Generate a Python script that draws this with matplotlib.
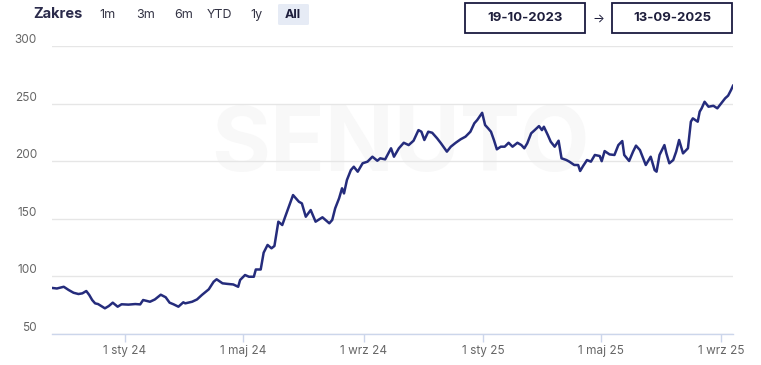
import numpy as np
import pandas as pd
from matplotlib import pyplot as plt
from matplotlib.patches import Rectangle, FancyBboxPatch

dates = [
    "2023-10-19", "2023-10-24", "2023-10-31", "2023-11-05", "2023-11-10", "2023-11-15",
    "2023-11-19", "2023-11-23", "2023-11-26", "2023-11-29", "2023-12-02", "2023-12-05",
    "2023-12-12", "2023-12-16", "2023-12-20", "2023-12-25", "2023-12-29", "2024-01-05",
    "2024-01-12", "2024-01-17", "2024-01-20", "2024-01-27", "2024-02-01", "2024-02-07",
    "2024-02-12", "2024-02-16", "2024-02-20", "2024-02-25", "2024-03-01", "2024-03-03",
    "2024-03-10", "2024-03-15", "2024-03-20", "2024-03-27", "2024-04-01", "2024-04-04",
    "2024-04-10", "2024-04-15", "2024-04-21", "2024-04-26", "2024-04-28", "2024-05-03",
    "2024-05-07", "2024-05-12", "2024-05-14", "2024-05-19", "2024-05-22", "2024-05-26",
    "2024-05-30", "2024-06-02", "2024-06-06", "2024-06-10", "2024-06-13", "2024-06-21",
    "2024-06-27", "2024-06-30", "2024-07-04", "2024-07-09", "2024-07-14", "2024-07-21",
    "2024-07-28", "2024-07-31", "2024-08-03", "2024-08-07", "2024-08-10", "2024-08-12",
    "2024-08-15", "2024-08-19", "2024-08-22", "2024-08-26", "2024-08-31", "2024-09-05",
    "2024-09-10", "2024-09-15", "2024-09-18", "2024-09-23", "2024-09-29", "2024-10-02",
    "2024-10-07", "2024-10-12", "2024-10-17", "2024-10-22", "2024-10-27", "2024-10-30",
    "2024-11-02", "2024-11-06", "2024-11-10", "2024-11-15", "2024-11-19", "2024-11-25",
    "2024-11-29", "2024-12-04", "2024-12-09", "2024-12-14", "2024-12-19", "2024-12-23",
    "2024-12-26", "2024-12-31", "2025-01-03", "2025-01-06", "2025-01-09", "2025-01-12",
    "2025-01-15", "2025-01-19", "2025-01-23", "2025-01-27", "2025-01-31", "2025-02-05",
    "2025-02-09", "2025-02-12", "2025-02-15", "2025-02-19", "2025-02-22", "2025-02-27",
    "2025-03-02", "2025-03-04", "2025-03-08", "2025-03-11", "2025-03-15", "2025-03-19",
    "2025-03-22", "2025-03-27", "2025-03-30", "2025-04-04", "2025-04-08", "2025-04-10",
    "2025-04-13", "2025-04-17", "2025-04-21", "2025-04-25", "2025-04-30", "2025-05-02",
    "2025-05-05", "2025-05-10", "2025-05-15", "2025-05-19", "2025-05-23", "2025-05-25",
    "2025-05-30", "2025-06-03", "2025-06-06", "2025-06-10", "2025-06-13", "2025-06-16",
    "2025-06-21", "2025-06-25", "2025-06-27", "2025-06-30", "2025-07-05", "2025-07-07",
    "2025-07-10", "2025-07-14", "2025-07-17", "2025-07-20", "2025-07-24", "2025-07-29",
    "2025-08-01", "2025-08-03", "2025-08-08", "2025-08-10", "2025-08-12", "2025-08-15",
    "2025-08-19", "2025-08-24", "2025-08-28", "2025-09-01", "2025-09-05", "2025-09-08",
    "2025-09-11", "2025-09-13",
]
values = [
    90.0, 89.5, 91.0, 88.2, 85.8, 84.7,
    85.3, 87.3, 83.9, 79.5, 76.6, 76.0,
    72.3, 74.3, 77.2, 73.7, 75.8, 75.5,
    76.0, 75.7, 79.5, 78.0, 80.0, 84.1,
    81.9, 77.2, 75.8, 73.7, 77.5, 76.6,
    78.0, 80.0, 83.9, 88.8, 95.4, 97.5,
    94.0, 93.5, 93.0, 91.0, 96.9, 101.2,
    99.7, 99.7, 106.0, 106.0, 120.6, 127.3,
    124.4, 126.4, 147.5, 144.6, 151.8, 170.6,
    164.8, 163.4, 151.8, 157.6, 147.5, 151.3,
    146.1, 149.0, 159.1, 167.8, 176.5, 172.0,
    183.7, 192.3, 195.2, 190.9, 198.2, 199.6,
    203.9, 200.4, 202.5, 201.6, 211.2, 203.9,
    211.2, 216.0, 214.0, 217.8, 227.0, 225.6,
    218.4, 225.6, 224.7, 219.9, 215.5, 208.3,
    212.6, 216.0, 219.0, 221.3, 225.6, 232.9,
    235.8, 242.0, 231.4, 228.6, 225.6, 218.4,
    210.3, 212.6, 212.6, 216.0, 212.6, 216.0,
    214.0, 211.2, 215.5, 224.2, 226.5, 230.5,
    227.0, 229.9, 222.7, 216.9, 212.6, 217.8,
    202.5, 201.0, 199.6, 196.7, 196.7, 191.5,
    195.8, 201.0, 199.6, 205.4, 204.5, 200.0,
    208.8, 205.9, 205.4, 214.0, 217.5, 205.4,
    200.2, 208.3, 213.5, 209.7, 203.1, 196.7,
    203.9, 192.3, 190.9, 205.4, 214.0, 206.8,
    198.2, 201.0, 208.3, 218.4, 206.8, 211.2,
    234.3, 237.2, 234.3, 243.0, 245.9, 251.6,
    247.3, 248.1, 245.9, 250.2, 254.6, 256.9,
    261.8, 265.5,
]
tick_dates = ["2024-01-01", "2024-05-01", "2024-09-01", "2025-01-01", "2025-05-01", "2025-09-01"]
tick_labels = ["1 sty 24", "1 maj 24", "1 wrz 24", "1 sty 25", "1 maj 25", "1 wrz 25"]
y_ticks = [50, 100, 150, 200, 250, 300]
range_buttons = ["1m", "3m", "6m", "YTD", "1y", "All"]
date_from, date_to = "19-10-2023", "13-09-2025"

W, H = 761, 365
plt.rcParams['font.family'] = ['Inter', 'DejaVu Sans']

fig = plt.figure(figsize=(W / 100, H / 100), dpi=100)
fig.patch.set_facecolor("white")

def fx(x):
    return x / W

def fy(y):
    return 1 - y / H

# plot area in pixels: x 52..733, y 46..334
ax = fig.add_axes([fx(52), fy(334), (733 - 52) / W, (334 - 46) / H])
ax.set_facecolor("none")
ax.set_zorder(2)

# watermark, behind everything
fig.text(fx(400), fy(147), "SENUTO", fontsize=65, fontweight="bold",
         color="#f8f8f8", ha="center", va="center", zorder=0)

x = pd.to_datetime(dates)
ax.plot(x, values, color="#252c7c", lw=1.8, solid_joinstyle="round", zorder=3)

ax.set_xlim(pd.Timestamp("2023-10-19"), pd.Timestamp("2025-09-13"))
ax.set_ylim(50, 300)
ax.set_yticks(y_ticks)
ax.yaxis.grid(True, color="#e6e6e6", lw=1)
ax.set_axisbelow(True)
ax.tick_params(axis="y", length=0, labelleft=False)
for v in y_ticks:
    ax.text(-0.022, v, str(v), transform=ax.get_yaxis_transform(), ha="right",
            va="bottom", fontsize=8.5, color="#666666")

ax.set_xticks(pd.to_datetime(tick_dates))
ax.set_xticklabels(tick_labels, fontsize=8.5, color="#666666")
ax.tick_params(axis="x", length=6, color="#ccd6eb", width=1, pad=2)

for s in ["top", "right", "left"]:
    ax.spines[s].set_visible(False)
ax.spines["bottom"].set_color("#ccd6eb")
ax.spines["bottom"].set_linewidth(1)

# range selector
fig.text(fx(33), fy(14), "Zakres", fontsize=10.5, fontweight="bold",
         color="#2b2b4b", ha="left", va="center")
btn_x = [107, 146, 184, 219, 256, 293]
for bx, lab in zip(btn_x, range_buttons):
    if lab == "All":
        fig.patches.append(FancyBboxPatch((fx(278), fy(25)), 31 / W, 21 / H,
                                          boxstyle="round,pad=0,rounding_size=0.003",
                                          transform=fig.transFigure, facecolor="#e6ebf5",
                                          edgecolor="none"))
        fig.text(fx(bx), fy(15), lab, fontsize=9, fontweight="bold",
                 color="#1e1e3c", ha="center", va="center")
    else:
        fig.text(fx(bx), fy(15), lab, fontsize=9, color="#333344",
                 ha="center", va="center")

# date inputs
for x0, txt in [(465, date_from), (612, date_to)]:
    fig.patches.append(Rectangle((fx(x0), fy(33)), 120 / W, 30 / H,
                                 transform=fig.transFigure, facecolor="white",
                                 edgecolor="#1a1a40", lw=1.3))
    fig.text(fx(x0 + 60), fy(18), txt, fontsize=9.5, fontweight="bold",
             color="#1e1e3c", ha="center", va="center")
fig.text(fx(598), fy(19), "\u2192", fontsize=9, color="#1e1e3c",
         ha="center", va="center")

fig.savefig("out.png", dpi=100, facecolor="white")
